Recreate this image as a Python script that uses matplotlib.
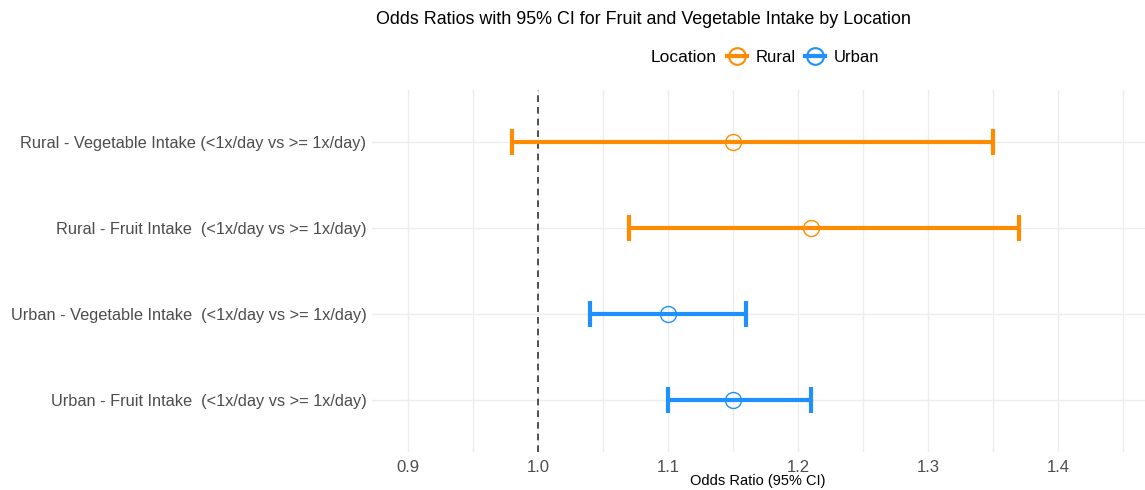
import matplotlib.pyplot as plt
from matplotlib.lines import Line2D
import numpy as np

plt.rcParams["font.family"] = ["Liberation Sans", "DejaVu Sans"]

# data, top row first
labels = [
    "Rural - Vegetable Intake (<1x/day vs >= 1x/day)",
    "Rural - Fruit Intake  (<1x/day vs >= 1x/day)",
    "Urban - Vegetable Intake  (<1x/day vs >= 1x/day)",
    "Urban - Fruit Intake  (<1x/day vs >= 1x/day)",
]
location = ["Rural", "Rural", "Urban", "Urban"]
odds_ratio = [1.15, 1.21, 1.10, 1.15]
ci_lower = [0.98, 1.07, 1.04, 1.10]
ci_upper = [1.35, 1.37, 1.16, 1.21]
x_ticks = [0.9, 1.0, 1.1, 1.2, 1.3, 1.4]

colors = {"Rural": "#FF8C00", "Urban": "#1E90FF"}

fig = plt.figure(figsize=(11.45, 4.9), dpi=100)
ax = fig.add_axes([372 / 1145, 1 - 452 / 490, 1 - 372 / 1145, (452 - 90) / 490])

n = len(labels)
ypos = np.arange(n)[::-1]

# grid
for yy in ypos:
    ax.axhline(yy, color="#ededed", lw=1.0, zorder=0)
for xx in np.arange(0.85, 1.5, 0.05):
    ax.axvline(xx, color="#ededed", lw=1.0, zorder=0)

ax.axvline(1.0, color="#333333", lw=1.2, ls=(0, (4, 3)), zorder=1)

for i in range(n):
    c = colors[location[i]]
    err = [[odds_ratio[i] - ci_lower[i]], [ci_upper[i] - odds_ratio[i]]]
    ax.errorbar(odds_ratio[i], ypos[i], xerr=err, fmt="none", ecolor=c,
                elinewidth=3, capsize=9.5, capthick=3, zorder=2)
    ax.plot(odds_ratio[i], ypos[i], marker="o", ms=11.5, mfc="none",
            mec=c, mew=1.0, ls="none", zorder=3)

ax.set_xlim(0.872, 1.467)
ax.set_ylim(-0.6, n - 0.4)
ax.set_xticks(x_ticks)
ax.set_xticklabels([f"{t:.1f}" for t in x_ticks])
ax.set_yticks(ypos)
ax.set_yticklabels(labels)
ax.tick_params(axis="both", length=0, labelsize=12, labelcolor="#4d4d4d")
ax.tick_params(axis="y", labelsize=11.8, pad=4)
ax.tick_params(axis="x", pad=6)
for s in ax.spines.values():
    s.set_visible(False)

fig.text(758 / 1145, 1 - 481 / 490, "Odds Ratio (95% CI)", ha="center", va="center", fontsize=10.5)

fig.text(643 / 1145, 1 - 20 / 490, "Odds Ratios with 95% CI for Fruit and Vegetable Intake by Location",
         ha="center", va="center", fontsize=12.9)

fig.text(651 / 1145, 1 - 57 / 490, "Location", ha="left", va="center", fontsize=12.5)
handles = [
    Line2D([], [], color=colors[k], lw=3, marker="o", ms=12, mfc="none", mec=colors[k], mew=1.5)
    for k in ["Rural", "Urban"]
]
fig.legend(handles, ["Rural", "Urban"], loc="center left", bbox_to_anchor=(727 / 1145, 1 - 57 / 490),
           ncol=2, frameon=False, fontsize=12, handlelength=1.2, handletextpad=0.5,
           columnspacing=0.6, borderpad=0, borderaxespad=0)

fig.savefig("out.png", dpi=100)
